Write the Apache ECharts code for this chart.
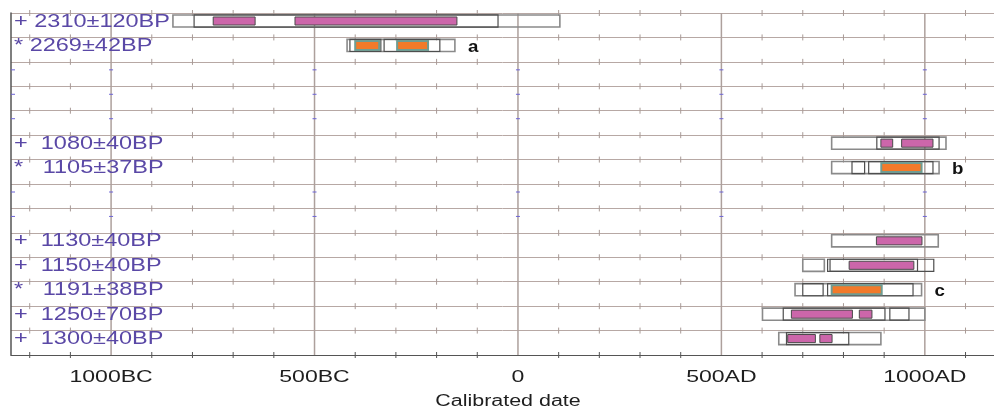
<!DOCTYPE html>
<html><head><meta charset="utf-8">
<script src="https://cdn.jsdelivr.net/npm/echarts@6/dist/echarts.min.js"></script>
<style>html,body{margin:0;padding:0;background:#fff}#c{width:994px;height:412px}</style>
</head><body><div id="c"></div>
<script>
// ---- data (calendar years, negative = BC) ----
const rowLabels = ["+ 2310±120BP", "* 2269±42BP", "", "", "", "+  1080±40BP", "*   1105±37BP", "", "",
  "+  1130±40BP", "+  1150±40BP", "*   1191±38BP", "+  1250±70BP", "+  1300±40BP"];
const rowLetters = ["", "a", "", "", "", "", "b", "", "", "", "", "c", "", ""];
const outlineRanges = [
  [[-848, 103], [-796, -49]],
  [[-420, -155], [-413, -337], [-329, -192]],
  [], [], [],
  [[771, 1052], [882, 1035]],
  [[771, 1035], [821, 852], [862, 1020]],
  [], [],
  [[771, 1033]],
  [[700, 753], [761, 1022], [767, 982]],
  [[681, 992], [700, 750], [761, 971]],
  [[601, 1000], [652, 902], [914, 961]],
  [[641, 892], [660, 813]]
];
const pinkRanges = [
  [[-749, -646], [-548, -150]],
  [], [], [], [],
  [[892, 921], [943, 1020]],
  [], [], [],
  [[881, 993]],
  [[814, 973]],
  [],
  [[672, 822], [839, 870]],
  [[663, 731], [742, 772]]
];
const orangeRanges = [
  [],
  [[-400, -341], [-297, -221]],
  [], [], [], [],
  [[893, 992]],
  [], [], [], [],
  [[771, 894]],
  [], []
];
const majorTicks = [-1000, -500, 0, 500, 1000];
const majorTickLabels = ["1000BC", "500BC", "0", "500AD", "1000AD"];
const minorTicks = [-1200, -1100, -900, -800, -700, -600, -400, -300, -200, -100,
  100, 200, 300, 400, 600, 700, 800, 900, 1100];
const xTitle = "Calibrated date";

// ---- chart ----
const chart = echarts.init(document.getElementById('c'), null, {renderer: 'canvas'});
const NROWS = rowLabels.length;
const GRIDC = '#b7a8a4';

function px(api, v) { return api.coord([v, 0])[0]; }
function rowBox(api, i) {
  return [api.coord([0, i + 0.08])[1], api.coord([0, i + 0.575])[1]];
}

function renderDecor(params, api) {
  const ch = [];
  const yT = api.coord([0, 0])[1], yB = api.coord([0, NROWS])[1];
  majorTicks.forEach(v => {
    const x = px(api, v);
    ch.push({type: 'line', shape: {x1: x, y1: yT, x2: x, y2: yB}, style: {stroke: '#ada09c', lineWidth: 1.5}});
  });
  for (let k = 0; k <= NROWS; k++) {
    const y = api.coord([0, k])[1];
    minorTicks.forEach(v => {
      const x = px(api, v);
      ch.push({type: 'line', shape: {x1: x, y1: y - 3, x2: x, y2: y + 3}, style: {stroke: k === NROWS ? '#555' : '#a89a96', lineWidth: 1}});
    });
  }
  rowLabels.forEach((lab, i) => {
    if (lab) return;
    const [y0, y1] = rowBox(api, i);
    const ym = (y0 + y1) / 2;
    const xs = [px(api, -1246) + 2].concat(majorTicks.map(v => px(api, v)));
    xs.forEach(x => ch.push({type: 'line', shape: {x1: x - 2, y1: ym, x2: x + 2, y2: ym}, style: {stroke: '#6b63d6', lineWidth: 1}}));
  });
  majorTicks.forEach((v, j) => {
    ch.push({type: 'text', x: px(api, v), y: yB + 23, scaleX: 1.44,
      style: {text: majorTickLabels[j], fill: '#1e1e1e', font: '16px "Liberation Sans", Arial, sans-serif', align: 'center', verticalAlign: 'middle'}});
  });
  return {type: 'group', children: ch};
}

function renderRow(params, api) {
  const i = api.value(0);
  const [y0, y1] = rowBox(api, i);
  const h = y1 - y0;
  const ch = [];
  outlineRanges[i].forEach((r, k) => {
    const a = px(api, r[0]), b = px(api, r[1]);
    ch.push({type: 'rect', z2: 1, shape: {x: a, y: y0, width: b - a, height: h},
      style: {fill: 'none', stroke: k === 0 ? '#8a8a8a' : '#4e4e4e', lineWidth: k === 0 ? 1.6 : 1.2}});
  });
  pinkRanges[i].forEach(r => {
    const a = px(api, r[0]), b = px(api, r[1]);
    ch.push({type: 'rect', z2: 2, shape: {x: a, y: y0 + 2, width: b - a, height: h - 4},
      style: {fill: '#cc66aa', stroke: '#4a4a4a', lineWidth: 1}});
  });
  orangeRanges[i].forEach(r => {
    const a = px(api, r[0]), b = px(api, r[1]);
    ch.push({type: 'rect', z2: 2, shape: {x: a, y: y0 + 1.5, width: b - a, height: h - 3},
      style: {fill: '#f27a2a', stroke: '#6f9c92', lineWidth: 2}});
  });
  if (rowLabels[i]) {
    ch.push({type: 'text', z2: 3, x: 14, y: (y0 + y1) / 2 + 0.5, scaleX: 1.27,
      style: {text: rowLabels[i], fill: '#5a48a6', font: '18.5px "Liberation Sans", Arial, sans-serif', align: 'left', verticalAlign: 'middle'}});
  }
  if (rowLetters[i]) {
    const end = Math.max.apply(null, outlineRanges[i].map(r => r[1]));
    ch.push({type: 'text', z2: 3, x: px(api, end) + 13, y: y1 + 4, scaleX: 1.1,
      style: {text: rowLetters[i], fill: '#111', font: 'bold 17px "Liberation Sans", Arial, sans-serif', align: 'left', verticalAlign: 'bottom'}});
  }
  return {type: 'group', children: ch};
}

chart.setOption({
  animation: false,
  backgroundColor: '#fff',
  grid: {left: 11, right: 0, top: 13, bottom: 57, containLabel: false},
  xAxis: {type: 'value', min: -1246, max: 1170,
    axisLine: {show: true, onZero: false, lineStyle: {color: '#555', width: 1.2}},
    axisTick: {show: false}, axisLabel: {show: false}, splitLine: {show: false}},
  yAxis: {type: 'value', min: 0, max: NROWS, interval: 1, inverse: true,
    axisLine: {show: true, onZero: false, lineStyle: {color: '#555', width: 1.5}},
    axisTick: {show: false}, axisLabel: {show: false},
    splitLine: {show: true, lineStyle: {color: GRIDC, width: 1}}},
  graphic: [{type: 'text', x: 508, y: 402, scaleX: 1.34,
    style: {text: xTitle, fill: '#1e1e1e', font: '16px "Liberation Sans", Arial, sans-serif', align: 'center', verticalAlign: 'middle'}}],
  series: [
    {type: 'custom', z: 1, silent: true, data: [[0]], renderItem: renderDecor},
    {type: 'custom', z: 2, silent: true, data: rowLabels.map((_, i) => [i]), encode: {x: -1, y: 0}, renderItem: renderRow}
  ]
});
</script>
</body></html>
